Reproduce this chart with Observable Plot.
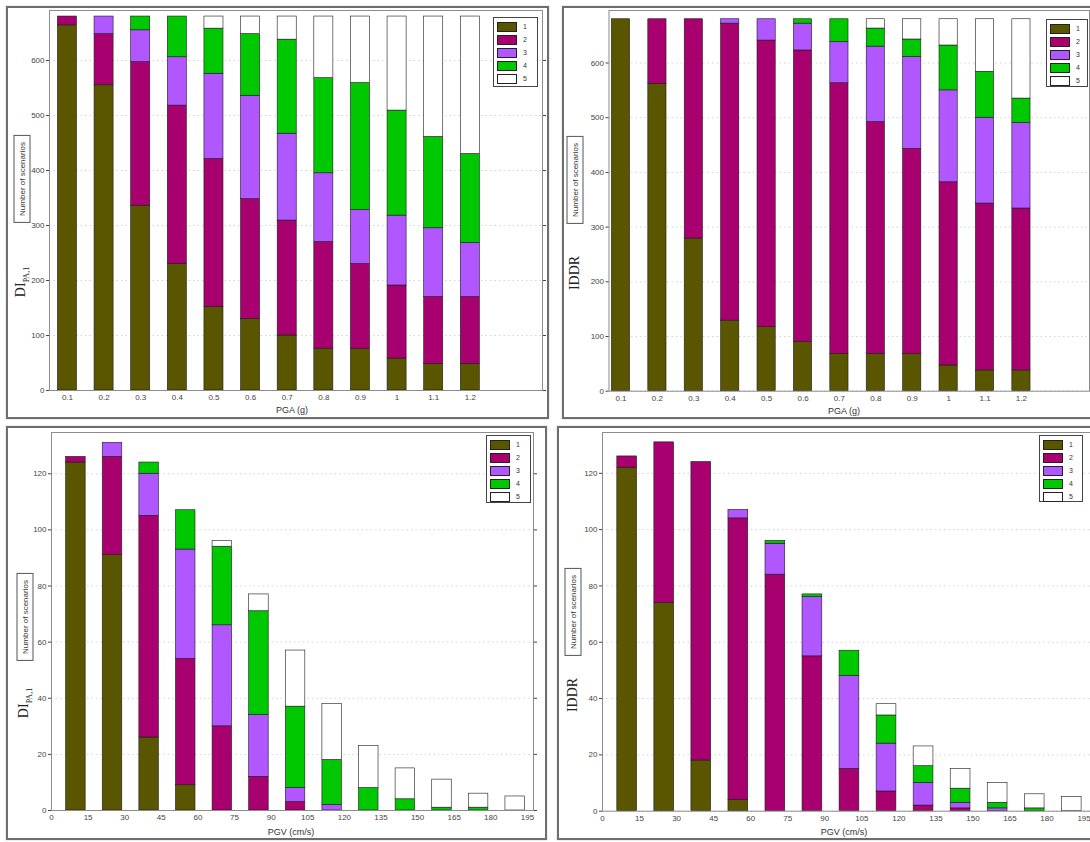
<!DOCTYPE html>
<html><head><meta charset="utf-8">
<script src="https://cdn.jsdelivr.net/npm/d3@7"></script>
<script src="https://cdn.jsdelivr.net/npm/@observablehq/plot@0.6"></script>
<style>
body{margin:0;background:#fff;font-family:"Liberation Sans",Arial,sans-serif;}
#root{position:relative;width:1090px;height:842px;overflow:hidden;background:#fff;}
.panel{position:absolute;border:2px solid #6e6e6e;box-sizing:border-box;pointer-events:none;box-shadow:0 0 1px #999;}
.wrap{position:absolute;}
.rot{position:absolute;transform:translate(-50%,-50%) rotate(-90deg);white-space:nowrap;}
.ybox{border:1px solid #555;background:#fff;font-size:8px;color:#333;padding:3px 6px;}
.yname{font-family:"Liberation Serif","DejaVu Serif",serif;font-size:14px;color:#222;}
.yname sub{font-size:8px;}
.xlab{position:absolute;transform:translate(-50%,-50%);font-size:9px;color:#333;white-space:nowrap;}
.legend{position:absolute;border:1px solid #444;background:#fff;padding:2px 3px;box-sizing:border-box;}
.legend .row{display:flex;align-items:center;height:13px;}
.legend .sw{width:20px;height:10px;border:1px solid #222;box-sizing:border-box;}
.legend .lb{font-size:7px;color:#333;margin-left:6px;}
</style></head><body><div id="root"></div>
<script>
// ---- data ----
const stateLabels = ["1", "2", "3", "4", "5"];
const stateColors = ["#5a5600", "#a8006e", "#b157ff", "#00c800", "#ffffff"];

const pgaLevels = [0.1, 0.2, 0.3, 0.4, 0.5, 0.6, 0.7, 0.8, 0.9, 1.0, 1.1, 1.2];
const pgvLevels = [10, 25, 40, 55, 70, 85, 100, 115, 130, 145, 160, 175, 190];
const pgvTicks = [0, 15, 30, 45, 60, 75, 90, 105, 120, 135, 150, 165, 180, 195];
const pgaCountTicks = [0, 100, 200, 300, 400, 500, 600];
const pgvCountTicks = [0, 20, 40, 60, 80, 100, 120];

// counts per damage state (rows = states 1..5, columns = levels)
const diPgaCounts = [
  [664, 555, 336, 230, 152, 130, 100, 76, 76, 58, 48, 48],
  [16, 93, 261, 288, 269, 218, 209, 194, 154, 133, 122, 122],
  [0, 32, 58, 88, 155, 188, 158, 125, 98, 127, 125, 98],
  [0, 0, 25, 74, 82, 112, 171, 173, 231, 191, 166, 162],
  [0, 0, 0, 0, 22, 32, 42, 112, 121, 171, 219, 250]
];
const iddrPgaCounts = [
  [680, 562, 279, 129, 117, 90, 68, 68, 68, 47, 38, 38],
  [0, 118, 401, 543, 524, 533, 495, 424, 375, 335, 305, 296],
  [0, 0, 0, 8, 39, 49, 75, 138, 168, 168, 157, 156],
  [0, 0, 0, 0, 0, 8, 42, 33, 32, 82, 84, 45],
  [0, 0, 0, 0, 0, 0, 0, 17, 37, 48, 96, 145]
];
const diPgvCounts = [
  [124, 91, 26, 9, 0, 0, 0, 0, 0, 0, 0, 0, 0],
  [2, 35, 79, 45, 30, 12, 3, 0, 0, 0, 0, 0, 0],
  [0, 5, 15, 39, 36, 22, 5, 2, 0, 0, 0, 0, 0],
  [0, 0, 4, 14, 28, 37, 29, 16, 8, 4, 1, 1, 0],
  [0, 0, 0, 0, 2, 6, 20, 20, 15, 11, 10, 5, 5]
];
const iddrPgvCounts = [
  [122, 74, 18, 4, 0, 0, 0, 0, 0, 0, 0, 0, 0],
  [4, 57, 106, 100, 84, 55, 15, 7, 2, 1, 0, 0, 0],
  [0, 0, 0, 3, 11, 21, 33, 17, 8, 2, 1, 0, 0],
  [0, 0, 0, 0, 1, 1, 9, 10, 6, 5, 2, 1, 0],
  [0, 0, 0, 0, 0, 0, 0, 4, 7, 7, 7, 5, 5]
];

// ---- build stacked tables ----
function stackRows(levels, counts, hw) {
  const rows = [];
  levels.forEach((lv, i) => {
    let cum = 0;
    counts.forEach((arr, s) => {
      const v = arr[i];
      if (v > 0) rows.push({x1: lv - hw, x2: lv + hw, y1: cum, y2: cum + v, state: stateLabels[s]});
      cum += v;
    });
  });
  return rows;
}

const root = document.getElementById("root");

function makePanel(cfg) {
  const rows = stackRows(cfg.levels, cfg.counts, cfg.hw);
  const chart = Plot.plot({
    width: cfg.w, height: cfg.h,
    marginLeft: cfg.ml, marginRight: cfg.mr, marginTop: cfg.mt, marginBottom: cfg.mb,
    x: {type: "linear", domain: cfg.xdomain, axis: null},
    y: {domain: cfg.ydomain, axis: null},
    color: {domain: stateLabels, range: stateColors},
    style: {fontSize: "8px", fontFamily: "Liberation Sans, Arial, sans-serif", color: "#444", background: "transparent", overflow: "visible"},
    marks: [
      Plot.gridY(cfg.yticks, {stroke: "#aaa", strokeDasharray: "1.5,3", strokeOpacity: 0.5}),
      Plot.rect(rows, {x1: "x1", x2: "x2", y1: "y1", y2: "y2", fill: "state", stroke: "#1a1a1a", strokeWidth: 0.6}),
      Plot.frame({stroke: "#8c8c8c"}),
      Plot.axisX(cfg.xticks, {tickSize: 0, tickPadding: 4, tickFormat: cfg.xfmt, label: null, fill: "#444"}),
      Plot.axisY(cfg.yticks, {tickSize: 3, tickPadding: 2, label: null, fill: "#444"}),
      Plot.axisY(cfg.yticks, {anchor: "right", tickSize: 3, tickFormat: () => "", label: null})
    ]
  });
  const wrap = document.createElement("div");
  wrap.className = "wrap";
  wrap.style.left = cfg.left + "px";
  wrap.style.top = cfg.top + "px";
  wrap.appendChild(chart);
  root.appendChild(wrap);

  // legend
  const lg = document.createElement("div");
  lg.className = "legend";
  lg.style.left = cfg.legend[0] + "px"; lg.style.top = cfg.legend[1] + "px";
  lg.style.width = cfg.legend[2] + "px"; lg.style.height = cfg.legend[3] + "px";
  stateLabels.forEach((s, i) => {
    const r = document.createElement("div"); r.className = "row";
    const sw = document.createElement("div"); sw.className = "sw"; sw.style.background = stateColors[i];
    const lb = document.createElement("span"); lb.className = "lb"; lb.textContent = s;
    r.appendChild(sw); r.appendChild(lb); lg.appendChild(r);
  });
  root.appendChild(lg);

  // y labels
  const box = document.createElement("div");
  box.className = "rot ybox";
  box.style.left = cfg.ybox[0] + "px"; box.style.top = cfg.ybox[1] + "px";
  box.textContent = "Number of scenarios";
  root.appendChild(box);
  const nm = document.createElement("div");
  nm.className = "rot yname";
  nm.style.left = cfg.yname[0] + "px"; nm.style.top = cfg.yname[1] + "px";
  nm.innerHTML = cfg.ynameHtml;
  root.appendChild(nm);

  // x label
  const xl = document.createElement("div");
  xl.className = "xlab";
  xl.style.left = cfg.xlab[0] + "px"; xl.style.top = cfg.xlab[1] + "px";
  xl.textContent = cfg.xlabText;
  root.appendChild(xl);

  // frame
  const fr = document.createElement("div");
  fr.className = "panel";
  fr.style.left = cfg.frame[0] + "px"; fr.style.top = cfg.frame[1] + "px";
  fr.style.width = cfg.frame[2] + "px"; fr.style.height = cfg.frame[3] + "px";
  root.appendChild(fr);
}

const pgaFmt = d => String(+d.toFixed(1));
const pgvFmt = d => String(d);

makePanel({
  left: 0, top: 0, w: 550, h: 420, ml: 49, mr: 8, mt: 10, mb: 30,
  levels: pgaLevels, counts: diPgaCounts, hw: 0.026,
  xdomain: [0.051, 1.397], ydomain: [0, 691], xticks: pgaLevels, yticks: pgaCountTicks, xfmt: pgaFmt,
  legend: [493, 17, 45, 70], ybox: [22, 179], yname: [22, 282], ynameHtml: "DI<sub>PA,1</sub>",
  xlab: [292, 410], xlabText: "PGA (g)", frame: [6, 6, 543, 413]
});
makePanel({
  left: 550, top: 0, w: 540, h: 420, ml: 58.5, mr: 1, mt: 10, mb: 29.3,
  levels: pgaLevels, counts: iddrPgaCounts, hw: 0.025,
  xdomain: [0.067, 1.387], ydomain: [0, 696], xticks: pgaLevels, yticks: pgaCountTicks, xfmt: pgaFmt,
  legend: [1046, 19, 42, 68], ybox: [575, 180], yname: [575, 273], ynameHtml: "IDDR",
  xlab: [844, 411], xlabText: "PGA (g)", frame: [562, 6, 532, 413]
});
makePanel({
  left: 0, top: 420, w: 550, h: 422, ml: 51, mr: 17, mt: 12, mb: 32,
  levels: pgvLevels, counts: diPgvCounts, hw: 4,
  xdomain: [0, 197.5], ydomain: [0, 134.7], xticks: pgvTicks, yticks: pgvCountTicks, xfmt: pgvFmt,
  legend: [486, 435, 45, 68], ybox: [25, 617], yname: [25, 703], ynameHtml: "DI<sub>PA,1</sub>",
  xlab: [291, 832], xlabText: "PGV (cm/s)", frame: [6, 426, 541, 414]
});
makePanel({
  left: 550, top: 420, w: 540, h: 422, ml: 52, mr: 0, mt: 12, mb: 31.3,
  levels: pgvLevels, counts: iddrPgvCounts, hw: 4,
  xdomain: [0, 197.6], ydomain: [0, 134.5], xticks: pgvTicks, yticks: pgvCountTicks, xfmt: pgvFmt,
  legend: [1039, 435, 44, 67], ybox: [573, 612], yname: [573, 695], ynameHtml: "IDDR",
  xlab: [844, 832], xlabText: "PGV (cm/s)", frame: [557, 426, 537, 414]
});
</script></body></html>
